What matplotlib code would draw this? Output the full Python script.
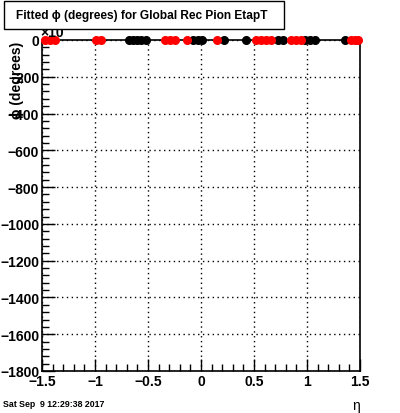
import matplotlib
matplotlib.use('Agg')
import matplotlib.pyplot as plt
from matplotlib.ticker import MultipleLocator
from matplotlib.patches import Rectangle

plt.rcParams['font.family'] = ['Liberation Sans', 'DejaVu Sans']

# fitted phi vs eta, all values sit at zero
red_eta = [-1.472, -1.425, -1.378, -0.992, -0.945, -0.343, -0.296, -0.249, -0.136,
           0.155, 0.522, 0.569, 0.616, 0.663, 0.851, 0.898, 0.945, 1.416, 1.453, 1.482]
red_phi = [0.0] * len(red_eta)
black_eta = [-0.682, -0.645, -0.607, -0.569, -0.522, -0.080, -0.033, 0.014, 0.221,
             0.428, 0.729, 0.776, 0.983, 1.030, 1.077, 1.359]
black_phi = [0.0] * len(black_eta)

title = "Fitted \u03d5 (degrees) for Global Rec Pion EtapT"
date_txt = "Sat Sep  9 12:29:38 2017"

fig = plt.figure(figsize=(4.0, 4.14), dpi=100)
ax = fig.add_axes([42/400, 1-372/414, 318/400, 331/414])

ax.plot(black_eta, black_phi, 'o', color='black', ms=5.5, mec='black', clip_on=False, zorder=5)
ax.plot(red_eta, red_phi, 'o', color='red', ms=5.5, mec='red', clip_on=False, zorder=6)

ax.set_xlim(-1.5, 1.5)
ax.set_ylim(-1800, 0)
ax.xaxis.set_major_locator(MultipleLocator(0.5))
ax.xaxis.set_minor_locator(MultipleLocator(0.1))
ax.yaxis.set_major_locator(MultipleLocator(200))
ax.yaxis.set_minor_locator(MultipleLocator(40))
ax.tick_params(which='major', direction='in', length=9, width=1, labelsize=10, pad=2)
ax.tick_params(which='minor', direction='in', length=5, width=1)
ax.tick_params(top=False, right=False, which='both')
for lab in ax.get_xticklabels() + ax.get_yticklabels():
    lab.set_fontweight('bold')
ax.set_xticks([-1.5, -1, -0.5, 0, 0.5, 1, 1.5])
ax.set_xticklabels(['\u22121.5', '\u22121', '\u22120.5', '0', '0.5', '1', '1.5'], fontweight='bold')
ax.grid(True, which='major', color='black', linestyle=(0, (1, 2.5)), linewidth=1)
for s in ax.spines.values():
    s.set_linewidth(1.2)

# axis titles
fig.text(17/400, 1-42/414, "\u03d5 (degrees)", rotation=90, ha='center', va='top',
         fontsize=10, fontweight='bold')
fig.text(356/400, 1-406/414, "\u03b7", ha='center', va='center', fontsize=10)
fig.text(3/400, 1-405/414, date_txt, ha='left', va='center', fontsize=6.3, fontweight='bold')
fig.text(40/400, 1-40/414, "\u00d710", ha='left', va='bottom', fontsize=10, fontweight='bold')

# title box on top
box = Rectangle((4/400, 1-30/414), 280/400, 28/414, transform=fig.transFigure,
                facecolor='white', edgecolor='black', linewidth=1, zorder=10)
fig.patches.append(box)
fig.text(142/400, 1-16/414, title, ha='center', va='center', fontsize=8.6,
         fontweight='bold', zorder=11)

fig.savefig('out.png', dpi=100)
